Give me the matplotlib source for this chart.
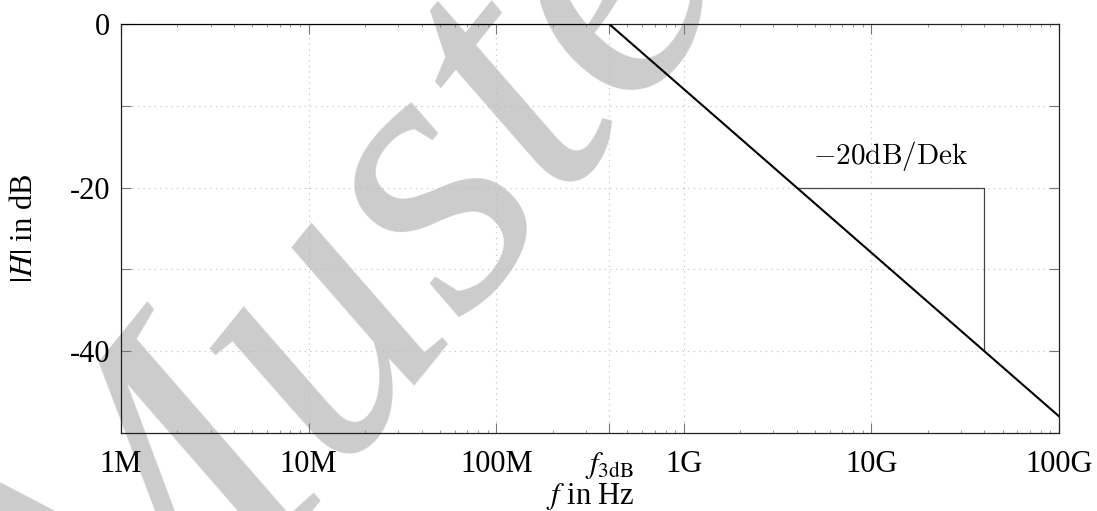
import numpy as np
import matplotlib
matplotlib.use("Agg")
import matplotlib.pyplot as plt
from matplotlib.ticker import FixedLocator, NullFormatter, LogLocator

plt.rcParams['font.family'] = ['Liberation Serif', 'DejaVu Serif']
plt.rcParams['mathtext.fontset'] = 'stix'

# data
f3db = 4e8
freq = [1e6, f3db, 1e11]
gain_db = [0, 0, -20 * np.log10(1e11 / f3db)]
slope_f = [4e9, 4e10, 4e10]
slope_db = [-20, -20, -40]
xtick_vals = [1e6, 1e7, 1e8, f3db, 1e9, 1e10, 1e11]
xtick_labels = ['1M', '10M', '100M', r'$f_{\mathrm{3dB}}$', '1G', '10G', '100G']
ytick_vals = [0, -10, -20, -30, -40, -50]
ytick_labels = ['0', '', '-20', '', '-40', '']

fig = plt.figure(figsize=(10.97, 5.11), dpi=100)
ax = fig.add_axes([121 / 1097, 1 - 433 / 511, (1059 - 121) / 1097, (433 - 24) / 511])
ax.set_facecolor('none')

fig.text(0.375, 0.525, 'Muster', fontsize=285, style='italic', color='#cccccc',
         rotation=51, ha='center', va='center', zorder=-5,
         family='Liberation Serif')

ax.set_xscale('log')
ax.set_xlim(1e6, 1e11)
ax.set_ylim(-50, 0)

ax.plot(freq, gain_db, color='black', lw=1.5, zorder=3, solid_joinstyle='miter')
ax.plot(slope_f, slope_db, color='#444444', lw=0.9, zorder=2)
ax.text(np.sqrt(slope_f[0] * slope_f[1]), -18.2, r'$-20\mathrm{dB/Dek}$',
        math_fontfamily='cm', fontsize=21, ha='center', va='bottom')

ax.xaxis.set_major_locator(FixedLocator(xtick_vals))
ax.set_xticklabels(xtick_labels)
ax.xaxis.set_minor_locator(LogLocator(base=10, subs=np.arange(2, 10)))
ax.xaxis.set_minor_formatter(NullFormatter())
ax.set_yticks(ytick_vals)
ax.set_yticklabels(ytick_labels)

ax.grid(True, which='major', linestyle=(0, (1, 4)), color='#bbbbbb', lw=0.8)
ax.tick_params(which='major', direction='in', length=7, width=0.8, color='#777777',
               top=True, right=True, labelsize=22, pad=8)
ax.tick_params(axis='x', which='major', pad=12)
ax.tick_params(which='minor', direction='in', length=2, width=0.6, color='#888888',
               top=True, right=False)
ax.tick_params(axis='y', which='minor', left=False, right=False)
for s in ax.spines.values():
    s.set_linewidth(0.9)
    s.set_color('#222222')

ax.set_xlabel(r'$f$ in Hz', fontsize=22, labelpad=0)
ax.set_ylabel(r'$|H|$ in dB', fontsize=22, labelpad=22)

fig.savefig('out.png', dpi=100)
